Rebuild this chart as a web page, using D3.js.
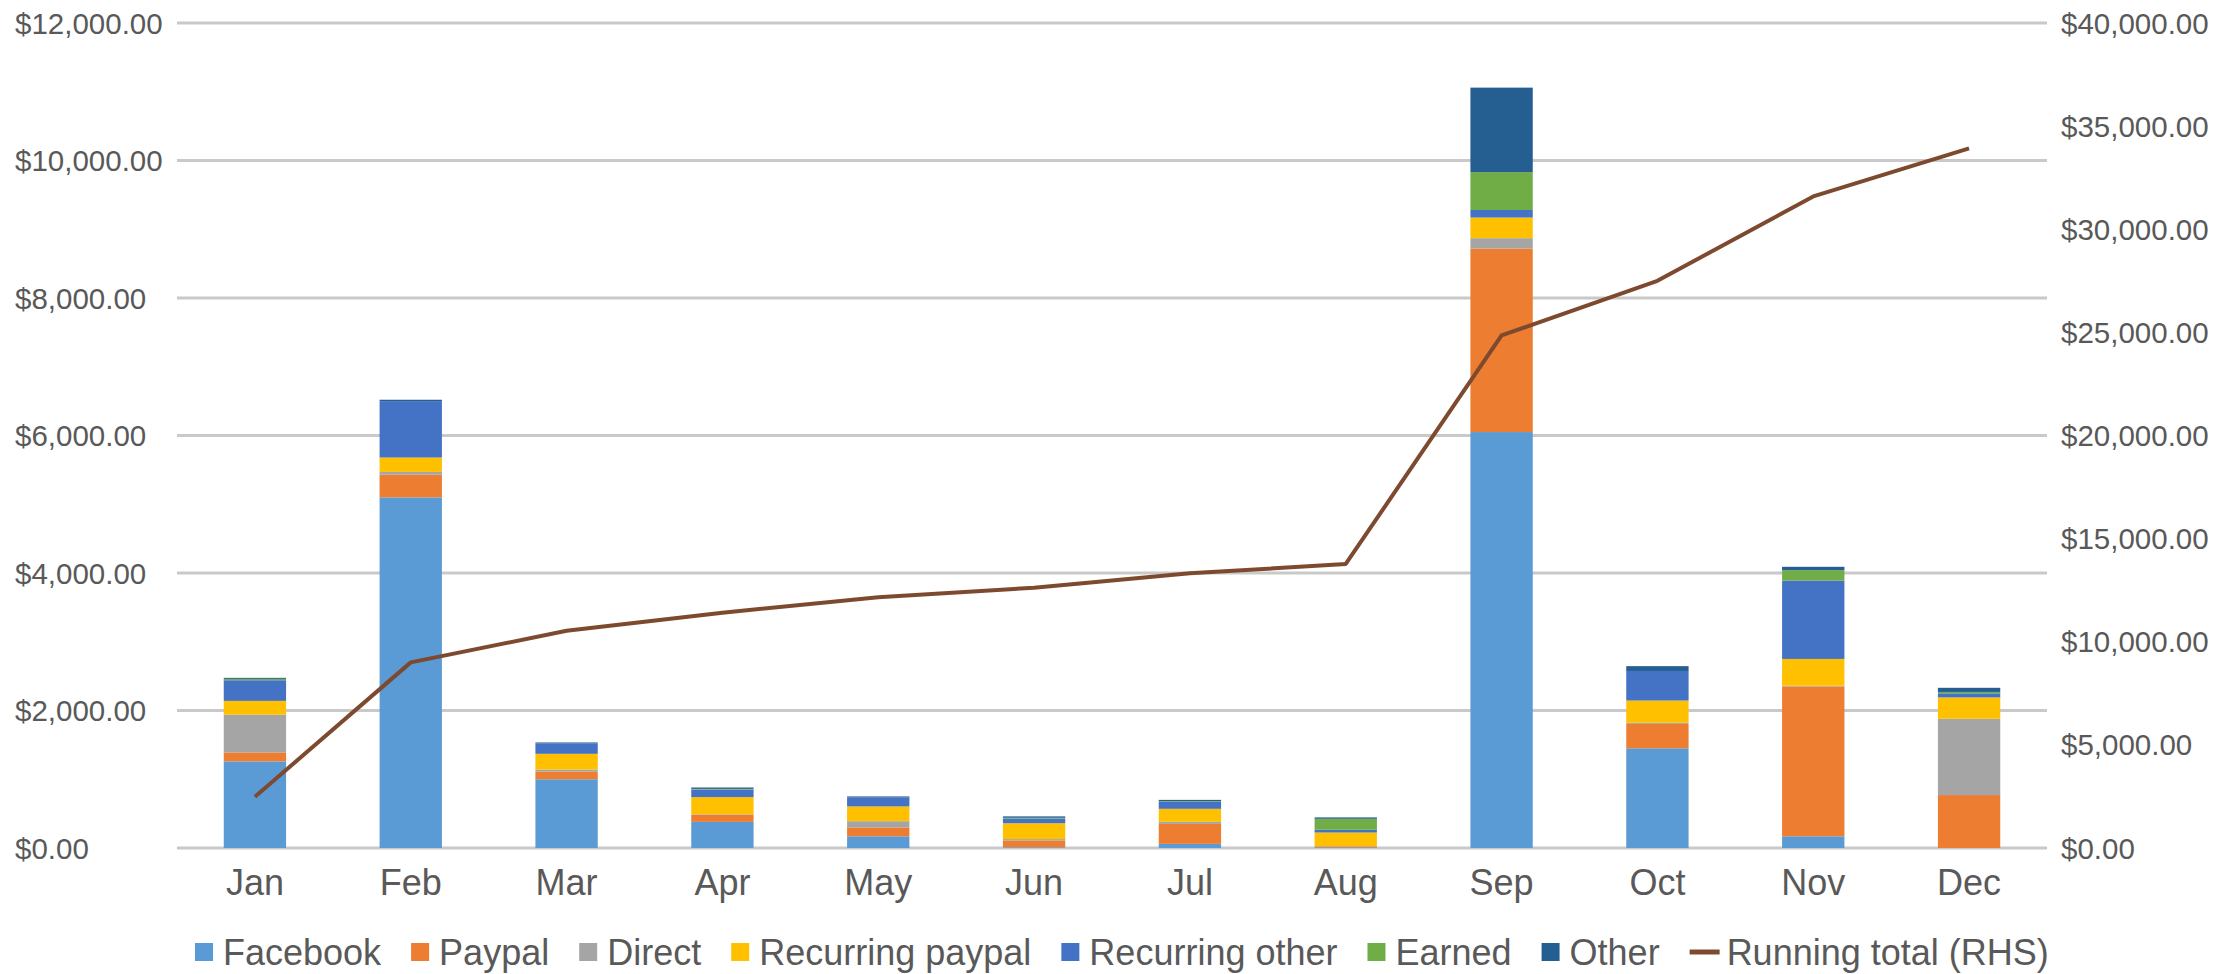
<!DOCTYPE html>
<html>
<head>
<meta charset="utf-8">
<script src="https://cdn.jsdelivr.net/npm/d3@7"></script>
<style>
  body { margin: 0; background: #fff; }
  text { font-family: "Liberation Sans", Arial, sans-serif; fill: #595959; }
</style>
</head>
<body>
<div id="chart-region"></div>
<script>
const WIDTH = 2239;
const HEIGHT = 974;
const PLOT = {LEFT: 177, RIGHT: 2047, TOP: 23, BOTTOM: 848};

const months = ["Jan", "Feb", "Mar", "Apr", "May", "Jun", "Jul", "Aug", "Sep", "Oct", "Nov", "Dec"];
const seriesNames = ["Facebook", "Paypal", "Direct", "Recurring paypal", "Recurring other", "Earned", "Other"];
const facebook = [1260, 5100, 1000, 380, 170, 10, 60, 10, 6050, 1450, 170, 0];
const paypal = [130, 330, 110, 100, 130, 100, 290, 15, 2670, 355, 2180, 770];
const direct = [550, 40, 30, 10, 90, 20, 30, 0, 150, 15, 10, 1110];
const recurringPaypal = [200, 210, 230, 250, 215, 230, 190, 200, 300, 325, 390, 310];
const recurringOther = [300, 820, 150, 110, 130, 70, 100, 40, 110, 430, 1140, 60];
const earned = [20, 0, 0, 10, 0, 10, 10, 160, 550, 0, 150, 20];
const other = [15, 20, 15, 20, 15, 20, 20, 20, 1230, 70, 50, 60];
const runningTotal = [2480, 9000, 10530, 11410, 12160, 12620, 13320, 13770, 24850, 27500, 31590, 33920];
const leftTicks = [0, 2000, 4000, 6000, 8000, 10000, 12000];
const rightTicks = [0, 5000, 10000, 15000, 20000, 25000, 30000, 35000, 40000];

const colorMapper = {
    "Facebook": "#5b9bd5", "Paypal": "#ed7d31", "Direct": "#a5a5a5",
    "Recurring paypal": "#ffc000", "Recurring other": "#4472c4",
    "Earned": "#70ad47", "Other": "#255e91"
};
const lineColor = "#7d4a2f";

const seriesValues = [facebook, paypal, direct, recurringPaypal, recurringOther, earned, other];
const table = months.map((m, i) => {
    const row = {month: m};
    seriesNames.forEach((s, k) => row[s] = seriesValues[k][i]);
    return row;
});

const chart = d3.select("#chart-region").append("svg")
    .attr("width", WIDTH)
    .attr("height", HEIGHT);

const xBand = d3.scaleBand().domain(months).range([PLOT.LEFT, PLOT.RIGHT]).paddingInner(0.6).paddingOuter(0.3);
const yLeft = d3.scaleLinear().domain([0, 12000]).range([PLOT.BOTTOM, PLOT.TOP]);
const yRight = d3.scaleLinear().domain([0, 40000]).range([PLOT.BOTTOM, PLOT.TOP]);
const fmt = d3.format("$,.2f");

// gridlines
chart.append("g")
    .selectAll("line")
    .data(leftTicks)
    .enter()
    .append("line")
    .attr("x1", PLOT.LEFT)
    .attr("x2", PLOT.RIGHT)
    .attr("y1", d => yLeft(d))
    .attr("y2", d => yLeft(d))
    .attr("stroke", "#c9c9c9")
    .attr("stroke-width", 3);

// left labels (left aligned like the original)
chart.append("g")
    .selectAll("text")
    .data(leftTicks)
    .enter()
    .append("text")
    .attr("x", 15)
    .attr("y", d => yLeft(d))
    .attr("dy", "0.36em")
    .attr("text-anchor", "start")
    .attr("font-size", "29.5px")
    .text(d => fmt(d));

// right labels
chart.append("g")
    .selectAll("text")
    .data(rightTicks)
    .enter()
    .append("text")
    .attr("x", 2061)
    .attr("y", d => yRight(d))
    .attr("dy", "0.36em")
    .attr("text-anchor", "start")
    .attr("font-size", "29.5px")
    .text(d => fmt(d));

// month labels
chart.append("g")
    .selectAll("text")
    .data(months)
    .enter()
    .append("text")
    .attr("x", d => xBand(d) + xBand.bandwidth() / 2)
    .attr("y", 882)
    .attr("dy", "0.36em")
    .attr("text-anchor", "middle")
    .attr("font-size", "36px")
    .text(d => d);

// stacked bars
const stacked = d3.stack().keys(seriesNames)(table);
chart.append("g")
    .selectAll("g")
    .data(stacked)
    .enter()
    .append("g")
    .attr("fill", d => colorMapper[d.key])
    .selectAll("rect")
    .data(d => d)
    .enter()
    .append("rect")
    .attr("x", d => xBand(d.data.month))
    .attr("y", d => yLeft(d[1]))
    .attr("width", xBand.bandwidth())
    .attr("height", d => yLeft(d[0]) - yLeft(d[1]));

// running total line
const line = d3.line()
    .x((d, i) => xBand(months[i]) + xBand.bandwidth() / 2)
    .y(d => yRight(d));
chart.append("path")
    .datum(runningTotal)
    .attr("d", line)
    .attr("fill", "none")
    .attr("stroke", lineColor)
    .attr("stroke-width", 4)
    .attr("stroke-linejoin", "round");

// legend
const legend = chart.append("g");
const legendY = 952;
const items = seriesNames.map(s => ({name: s, type: "box"}));
items.push({name: "Running total (RHS)", type: "line"});
let cursor = 195;
items.forEach(item => {
    if (item.type === "box") {
        legend.append("rect")
            .attr("x", cursor)
            .attr("y", legendY - 9)
            .attr("width", 18)
            .attr("height", 18)
            .attr("fill", colorMapper[item.name]);
        cursor += 28;
    } else {
        legend.append("line")
            .attr("x1", cursor)
            .attr("x2", cursor + 30)
            .attr("y1", legendY)
            .attr("y2", legendY)
            .attr("stroke", lineColor)
            .attr("stroke-width", 5);
        cursor += 37;
    }
    const t = legend.append("text")
        .attr("x", cursor)
        .attr("y", legendY)
        .attr("dy", "0.36em")
        .attr("font-size", "36px")
        .text(item.name);
    cursor += t.node().getComputedTextLength() + 30;
});
</script>
</body>
</html>
